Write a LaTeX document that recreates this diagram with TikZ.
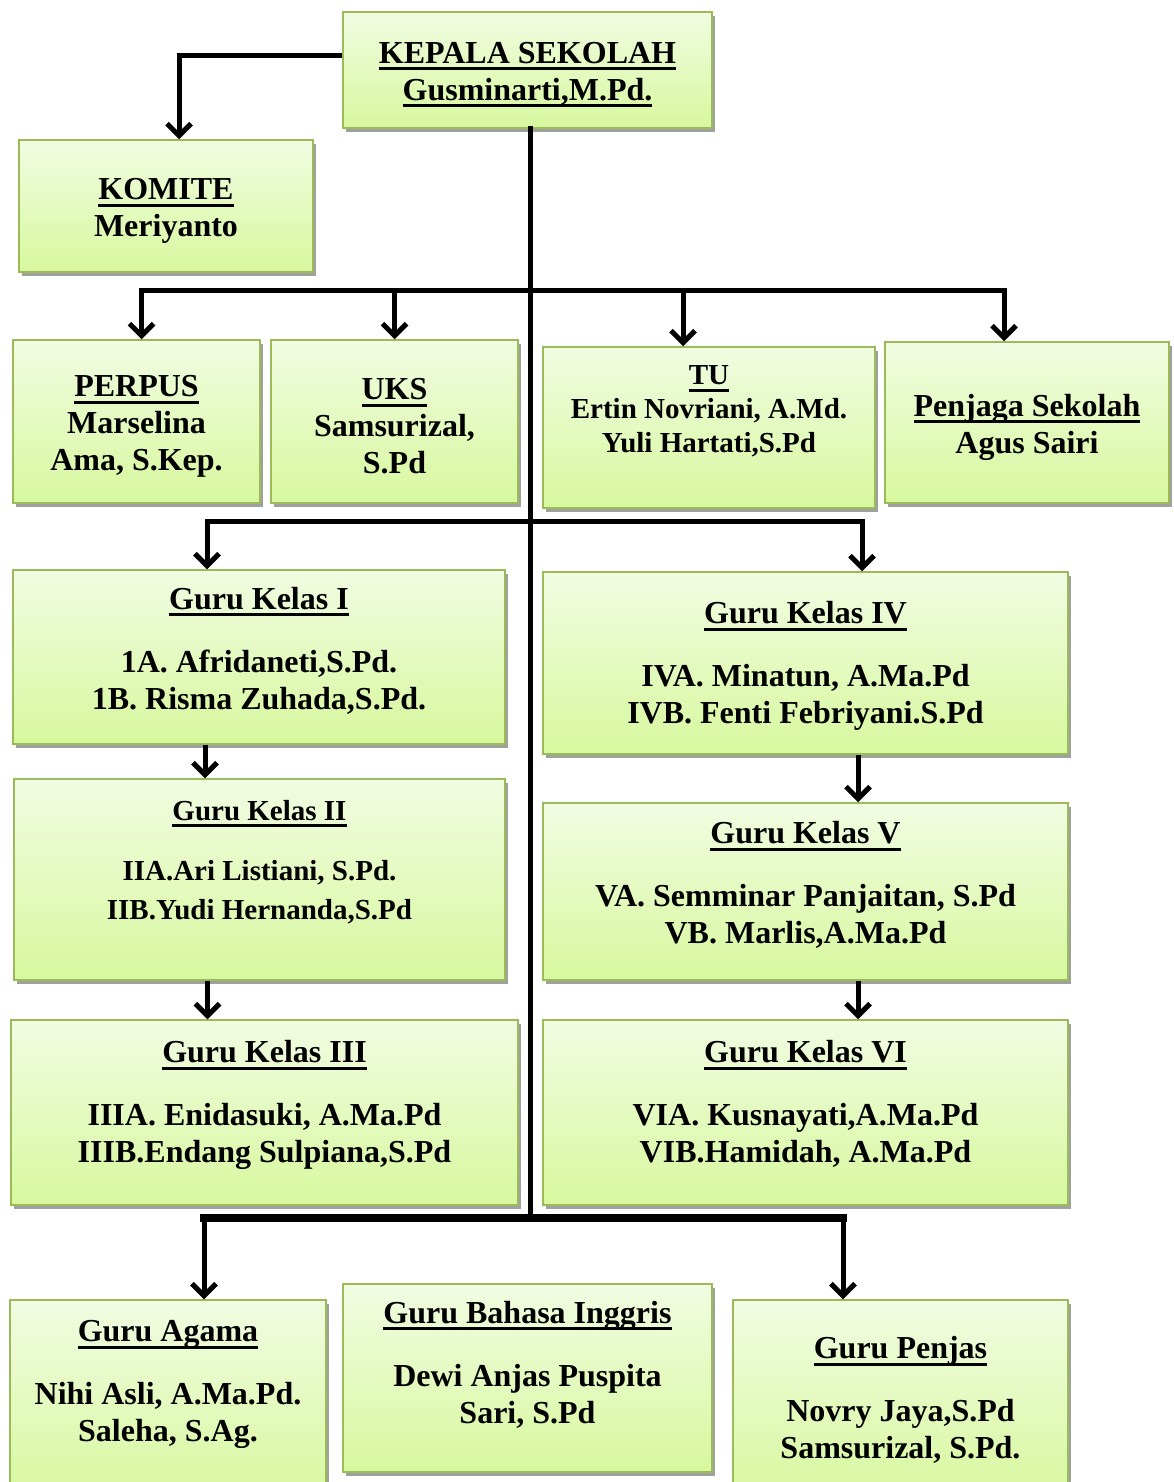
\documentclass[tikz,border=0pt]{standalone}
\usepackage{fontspec}
\setmainfont{Liberation Serif}
\usetikzlibrary{arrows.meta,shadows}
\definecolor{hijauGaris}{RGB}{155,187,89}
\definecolor{hijauAtas}{RGB}{241,252,226}
\definecolor{hijauBawah}{RGB}{215,248,158}
\definecolor{bayangan}{RGB}{160,160,160}
\newcommand\judul[1]{\setbox0\hbox{#1}\leavevmode\rlap{\rule[-7pt]{\wd0}{3pt}}\box0}
\newcommand\turun[1]{\rule[-#1]{0pt}{#1}}
\newcommand\naik[1]{\rule{0pt}{#1}}
\tikzset{
  kotak/.style={draw=hijauGaris,line width=1.5pt,top color=hijauAtas,bottom color=hijauBawah,
    drop shadow={shadow xshift=3pt,shadow yshift=-4pt,fill=bayangan,opacity=1},
    align=center,inner sep=0pt,font=\bfseries\fontsize{32}{37}\selectfont},
  kecil/.style={font=\bfseries\fontsize{29}{34}\selectfont},
  garis/.style={line width=5pt,line cap=rect},
  panah/.style={line width=5pt,-{Straight Barb[length=12pt,width=24pt]}},
}
\begin{document}
\begin{tikzpicture}[x=1pt,y=-1pt]
\useasboundingbox (0,0) rectangle (1173,1482);
% kepala dan komite
\node[kotak,minimum width=369pt,minimum height=116pt] (kepala) at (527.5,70)
  {\naik{31pt}\judul{KEPALA SEKOLAH}\\\judul{Gusminarti,M.Pd.}};
\node[kotak,minimum width=294pt,minimum height=132pt] (komite) at (166,206)
  {\naik{31pt}\judul{KOMITE}\\Meriyanto};
% staf
\node[kotak,minimum width=247pt,minimum height=163pt] (perpus) at (136.5,421.5)
  {\naik{31pt}\judul{PERPUS}\\Marselina\\Ama, S.Kep.};
\node[kotak,minimum width=247pt,minimum height=163pt] (uks) at (394.5,421.5)
  {\naik{31pt}\judul{UKS}\\Samsurizal,\\S.Pd};
\node[kotak,kecil,minimum width=332pt,minimum height=161pt] (tu) at (709,427.5)
  {\judul{TU}\\Ertin Novriani, A.Md.\\Yuli Hartati,S.Pd\turun{36pt}};
\node[kotak,minimum width=284pt,minimum height=161pt] (penjaga) at (1027,422.5)
  {\naik{32pt}\judul{Penjaga Sekolah}\\Agus Sairi};
% guru kelas
\node[kotak,minimum width=492pt,minimum height=174pt] (kelas1) at (259,657)
  {\judul{Guru Kelas I}\\[26pt]1A. Afridaneti,S.Pd.\\1B. Risma Zuhada,S.Pd.\turun{18pt}};
\node[kotak,kecil,minimum width=491pt,minimum height=201pt] (kelas2) at (259.5,879.5)
  {\judul{Guru Kelas II}\\[26pt]IIA.Ari Listiani, S.Pd.\\[5pt]IIB.Yudi Hernanda,S.Pd\turun{40pt}};
\node[kotak,minimum width=507pt,minimum height=185pt] (kelas3) at (264.5,1112.5)
  {\judul{Guru Kelas III}\\[26pt]IIIA. Enidasuki, A.Ma.Pd\\IIIB.Endang Sulpiana,S.Pd\turun{22pt}};
\node[kotak,minimum width=525pt,minimum height=182pt] (kelas4) at (805.5,663)
  {\naik{28pt}\judul{Guru Kelas IV}\\[26pt]IVA. Minatun, A.Ma.Pd\\IVB. Fenti Febriyani.S.Pd};
\node[kotak,minimum width=525pt,minimum height=177pt] (kelas5) at (805.5,891.5)
  {\judul{Guru Kelas V}\\[26pt]VA. Semminar Panjaitan, S.Pd\\VB. Marlis,A.Ma.Pd\turun{18pt}};
\node[kotak,minimum width=525pt,minimum height=185pt] (kelas6) at (805.5,1112.5)
  {\judul{Guru Kelas VI}\\[26pt]VIA. Kusnayati,A.Ma.Pd\\VIB.Hamidah, A.Ma.Pd\turun{22pt}};
% guru bidang studi
\node[kotak,minimum width=316pt,minimum height=200pt] (agama) at (168,1400)
  {\judul{Guru Agama}\\[26pt]Nihi Asli, A.Ma.Pd.\\Saleha, S.Ag.\turun{38pt}};
\node[kotak,minimum width=369pt,minimum height=188pt] (inggris) at (527.5,1378)
  {\judul{Guru Bahasa Inggris}\\[26pt]Dewi Anjas Puspita\\Sari, S.Pd\turun{32pt}};
\node[kotak,minimum width=335pt,minimum height=200pt] (penjas) at (900.5,1400)
  {\judul{Guru Penjas}\\[26pt]Novry Jaya,S.Pd\\Samsurizal, S.Pd.\turun{4pt}};
% garis penghubung
\coordinate (bus1) at (0,290);
\coordinate (bus2) at (0,521);
\coordinate (bus3) at (0,1218);
\draw[garis] ([xshift=2.5pt]kepala.south) -- ([xshift=2.5pt]kepala.south |- bus3);
\draw[panah] ([yshift=14pt]kepala.west) -| ([xshift=13pt]komite.north);
\draw[garis] ([xshift=5pt]perpus.north |- bus1) -- ([xshift=-23pt]penjaga.north |- bus1);
\foreach \nama/\geser in {perpus/5,uks/0,tu/-26,penjaga/-23}
  \draw[panah] ([xshift=\geser pt]\nama.north |- bus1) -- ([xshift=\geser pt]\nama.north);
\draw[garis] ([xshift=-52pt]kelas1.north |- bus2) -- ([xshift=56.5pt]kelas4.north |- bus2);
\foreach \nama/\geser in {kelas1/-52,kelas4/56.5}
  \draw[panah] ([xshift=\geser pt]\nama.north |- bus2) -- ([xshift=\geser pt]\nama.north);
\foreach \atas/\bawah/\geser in {kelas1/kelas2/-54,kelas2/kelas3/-52,kelas4/kelas5/52.5,kelas5/kelas6/52.5}
  \draw[panah] ([xshift=\geser pt]\atas.south) -- ([xshift=\geser pt]\atas.south |- \bawah.north);
\draw[garis,line width=8pt] ([xshift=36pt]agama.north |- bus3) -- ([xshift=-57.5pt]penjas.north |- bus3);
\foreach \nama/\geser in {agama/36,penjas/-57.5}
  \draw[panah] ([xshift=\geser pt]\nama.north |- bus3) -- ([xshift=\geser pt]\nama.north);
\end{tikzpicture}
\end{document}
